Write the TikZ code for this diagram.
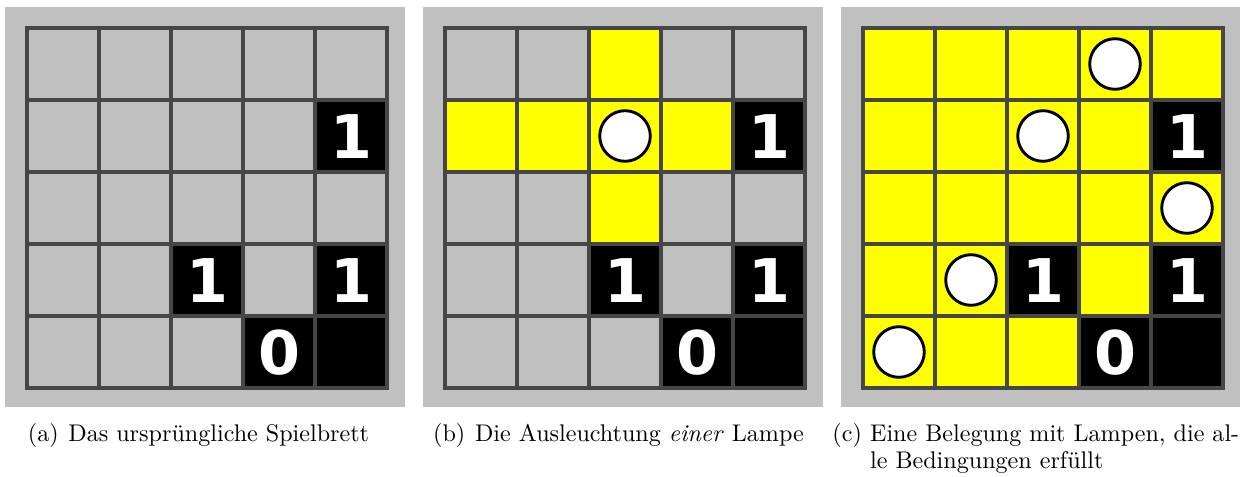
\documentclass[tikz,border=0pt]{standalone}
\usepackage{fontspec}
\usepackage{xcolor}
\usepackage{tikz}
\usetikzlibrary{positioning}

\newfontfamily\digitfont{DejaVu Sans}
\definecolor{boardgray}{HTML}{C0C0C0}
\definecolor{gridline}{HTML}{464646}
\definecolor{litcell}{HTML}{FFFF00}

\begin{document}
\begin{tikzpicture}[
    x=0.415pt, y=-0.415pt,
    board/.style={fill=boardgray},
    gridl/.style={draw=gridline, line width=1.3pt, line cap=rect},
    lit/.style={fill=litcell},
    wall/.style={fill=black},
    num/.style={font=\digitfont\bfseries\fontsize{25}{25}\selectfont,
      text=white, inner sep=0pt},
    lamp/.style={circle, draw=black, fill=white, line width=1.2pt,
      minimum size=21pt, inner sep=0pt},
    subcap/.style={font=\normalsize, anchor=base, inner sep=0pt}
  ]
  \useasboundingbox (0,0) rectangle (1240,477);

  % ══ (a): the untouched board ══════════════════════════════════════════
  \begin{scope}
    \fill[board] (5,7) rectangle (405,407);
    \begin{scope}[shift={(27,28)}]
      \foreach \r/\c in {1/4, 3/2, 3/4, 4/3, 4/4}
        \fill[wall] (72*\c,72*\r) rectangle ++(72,72);
      \foreach \i in {0,...,5} {
        \draw[gridl] (72*\i,0) -- (72*\i,360);
        \draw[gridl] (0,72*\i) -- (360,72*\i);
      }
      \foreach \r/\c/\n in {1/4/1, 3/2/1, 3/4/1, 4/3/0}
        \node[num] (a-\r\c) at (72*\c+36,72*\r+37) {\n};
    \end{scope}
  \end{scope}

  % ══ (b): light of one lamp ════════════════════════════════════════════
  \begin{scope}[shift={(418,0)}]
    \fill[board] (5,7) rectangle (405,407);
    \begin{scope}[shift={(27,28)}]
      \foreach \r/\c in {0/2, 1/0, 1/1, 1/2, 1/3, 2/2}
        \fill[lit] (72*\c,72*\r) rectangle ++(72,72);
      \foreach \r/\c in {1/4, 3/2, 3/4, 4/3, 4/4}
        \fill[wall] (72*\c,72*\r) rectangle ++(72,72);
      \foreach \i in {0,...,5} {
        \draw[gridl] (72*\i,0) -- (72*\i,360);
        \draw[gridl] (0,72*\i) -- (360,72*\i);
      }
      \foreach \r/\c/\n in {1/4/1, 3/2/1, 3/4/1, 4/3/0}
        \node[num] (b-\r\c) at (72*\c+36,72*\r+37) {\n};
      \node[lamp] (b-lamp) at (72*2+36,72*1+36) {};
    \end{scope}
  \end{scope}

  % ══ (c): a full solution ══════════════════════════════════════════════
  \begin{scope}[shift={(836,0)}]
    \fill[board] (5,7) rectangle (405,407);
    \begin{scope}[shift={(27,28)}]
      \fill[lit] (0,0) rectangle (360,360);
      \foreach \r/\c in {1/4, 3/2, 3/4, 4/3, 4/4}
        \fill[wall] (72*\c,72*\r) rectangle ++(72,72);
      \foreach \i in {0,...,5} {
        \draw[gridl] (72*\i,0) -- (72*\i,360);
        \draw[gridl] (0,72*\i) -- (360,72*\i);
      }
      \foreach \r/\c/\n in {1/4/1, 3/2/1, 3/4/1, 4/3/0}
        \node[num] (c-\r\c) at (72*\c+36,72*\r+37) {\n};
      \foreach \r/\c in {0/3, 1/2, 2/4, 3/1, 4/0}
        \node[lamp] (c-lamp-\r\c) at (72*\c+36,72*\r+36) {};
    \end{scope}
  \end{scope}

  % captions
  \node[subcap] (capa) at (198.5,442)
    {(a)\hspace{4pt}Das ursprüngliche Spielbrett};
  \node[subcap] (capb) at (618.5,442)
    {(b)\hspace{4pt}Die Ausleuchtung \emph{einer} Lampe};
  \node[subcap, anchor=base west] (capc) at (832,442) {(c)};
  \node[subcap, anchor=base west] (capc1) at ([xshift=3pt]capc.base east)
    {Eine Belegung mit Lampen, die al-};
  \node[subcap, anchor=base west] (capc2) at ([yshift=-11pt]capc1.base west)
    {le Bedingungen erfüllt};

\end{tikzpicture}
\end{document}
